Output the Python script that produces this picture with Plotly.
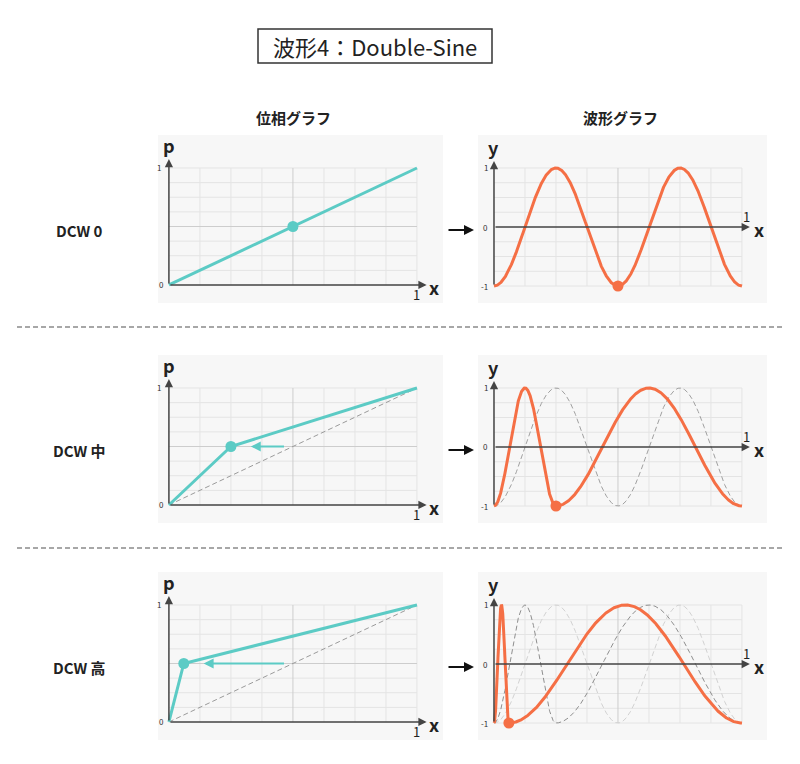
import numpy as np
import plotly.graph_objects as go

# ---------------- data ----------------
row_labels = ["DCW 0", "DCW 中", "DCW 高"]
breaks = [0.5, 0.25, 0.06]          # x where phase reaches p = 0.5
break_p = 0.5
arrow_from = [None, 0.47, 0.47]     # start of the teal "push" arrow
arrow_gap = 0.08
col_titles = ["位相グラフ", "波形グラフ"]
title_text = "波形4：Double-Sine"
phase_grid = [i / 8 for i in range(9)]
wave_grid_x = [i / 8 for i in range(9)]
wave_grid_y = [-1 + i / 4 for i in range(9)]
phase_ticks = ["0", "1"]
wave_ticks = ["-1", "0", "1"]
cycles = 2  # double sine

TEAL = "#5ccbc5"
ORANGE = "#f56f45"
AXC = "#444444"
GRID = "#e4e4e4"
GRID_MID = "#cdcdcd"
FONT = "Noto Sans CJK JP"

W, H = 800, 764
row_off = [0, 220, 437]


def px(x):
    return x / W


def py(y):
    return 1 - y / H


def phase_of(x, b):
    return np.interp(x, [0, b, 1], [0, break_p, 1])


def wave_of(x, b):
    return -np.cos(2 * np.pi * cycles * phase_of(x, b))


fig = go.Figure()
annotations = []
shapes = []
xs = np.linspace(0, 1, 2001)
C = dict(xanchor="center", yanchor="middle")

for r, b in enumerate(breaks):
    off = row_off[r]
    pa, wa = 2 * r + 1, 2 * r + 2
    pxn = "x" if pa == 1 else f"x{pa}"
    pyn = "y" if pa == 1 else f"y{pa}"
    wxn, wyn = f"x{wa}", f"y{wa}"

    # axes layout
    fig.layout[f"xaxis{'' if pa == 1 else pa}"] = dict(
        domain=[px(158), px(443)], range=[-0.044, 1.105], visible=False,
        anchor=pyn, fixedrange=True)
    fig.layout[f"yaxis{'' if pa == 1 else pa}"] = dict(
        domain=[py(303 + off), py(135 + off)], range=[-0.154, 1.282],
        visible=False, anchor=pxn, fixedrange=True)
    fig.layout[f"xaxis{wa}"] = dict(
        domain=[px(478), px(767)], range=[-0.0645, 1.101], visible=False,
        anchor=wyn, fixedrange=True)
    fig.layout[f"yaxis{wa}"] = dict(
        domain=[py(303 + off), py(135 + off)], range=[-1.288, 1.559],
        visible=False, anchor=wxn, fixedrange=True)

    # ---- phase grid ----
    gx, gy = [], []
    for g in phase_grid:
        if g in (0, 0.5):
            continue
        gx += [g, g, None, 0, 1, None]
        gy += [0, 1, None, g, g, None]
    fig.add_trace(go.Scatter(x=gx, y=gy, mode="lines", xaxis=pxn, yaxis=pyn,
                             line=dict(color=GRID, width=1), hoverinfo="skip"))
    fig.add_trace(go.Scatter(x=[0.5, 0.5, None, 0, 1], y=[0, 1, None, 0.5, 0.5],
                             mode="lines", xaxis=pxn, yaxis=pyn,
                             line=dict(color=GRID_MID, width=1), hoverinfo="skip"))
    if r > 0:
        fig.add_trace(go.Scatter(x=[0, 1], y=[0, 1], mode="lines", xaxis=pxn, yaxis=pyn,
                                 line=dict(color="#9a9a9a", width=1, dash="5px,3px"),
                                 hoverinfo="skip"))
    fig.add_trace(go.Scatter(x=[0, b, 1], y=[0, break_p, 1], mode="lines",
                             xaxis=pxn, yaxis=pyn, line=dict(color=TEAL, width=3),
                             hoverinfo="skip"))
    fig.add_trace(go.Scatter(x=[b], y=[break_p], mode="markers", xaxis=pxn, yaxis=pyn,
                             marker=dict(color=TEAL, size=11), hoverinfo="skip"))

    # ---- wave grid ----
    gx, gy = [], []
    for g in wave_grid_x:
        if g in (0, 0.5):
            continue
        gx += [g, g, None]
        gy += [-1, 1, None]
    for g in wave_grid_y:
        if g == 0:
            continue
        gx += [0, 1, None]
        gy += [g, g, None]
    fig.add_trace(go.Scatter(x=gx, y=gy, mode="lines", xaxis=wxn, yaxis=wyn,
                             line=dict(color=GRID, width=1), hoverinfo="skip"))
    fig.add_trace(go.Scatter(x=[0.5, 0.5], y=[-1, 1], mode="lines", xaxis=wxn, yaxis=wyn,
                             line=dict(color=GRID_MID, width=1), hoverinfo="skip"))
    # ghost waves of the previous rows
    ghost_cols = {1: ["#a0a0a0"], 2: ["#d2d2d2", "#8e8e8e"]}
    for k, gc in enumerate(ghost_cols.get(r, [])):
        fig.add_trace(go.Scatter(x=xs, y=wave_of(xs, breaks[k]), mode="lines",
                                 xaxis=wxn, yaxis=wyn,
                                 line=dict(color=gc, width=1, dash="5px,3px"),
                                 hoverinfo="skip"))
    fig.add_trace(go.Scatter(x=xs, y=wave_of(xs, b), mode="lines", xaxis=wxn, yaxis=wyn,
                             line=dict(color=ORANGE, width=3), hoverinfo="skip"))
    fig.add_trace(go.Scatter(x=[b], y=[float(wave_of(np.array([b]), b)[0])], mode="markers",
                             xaxis=wxn, yaxis=wyn, marker=dict(color=ORANGE, size=11),
                             hoverinfo="skip"))

    # ---- axis arrows ----
    arr = dict(text="", showarrow=True, arrowhead=2, arrowsize=1.1, arrowwidth=1.5,
               arrowcolor=AXC)
    annotations += [
        dict(arr, x=0, y=1.077, ax=0, ay=0, xref=pxn, yref=pyn, axref=pxn, ayref=pyn),
        dict(arr, x=1.039, y=0, ax=0, ay=0, xref=pxn, yref=pyn, axref=pxn, ayref=pyn),
        dict(arr, x=0, y=1.12, ax=0, ay=-1, xref=wxn, yref=wyn, axref=wxn, ayref=wyn),
        dict(arr, x=1.032, y=0, ax=0, ay=0, xref=wxn, yref=wyn, axref=wxn, ayref=wyn),
    ]
    lab = dict(C, showarrow=False, font=dict(family=FONT, size=18, color="#222"))
    small = dict(showarrow=False, yanchor="middle", xanchor="right",
                 font=dict(family=FONT, size=8, color="#333"))
    annotations += [
        dict(lab, text="<b>p</b>", x=0, y=1.2, xref=pxn, yref=pyn),
        dict(lab, text="<b>x</b>", x=1.067, y=-0.02, xref=pxn, yref=pyn),
        dict(lab, text="1", x=1.0, y=-0.085, xref=pxn, yref=pyn,
             font=dict(family=FONT, size=13, color="#222")),
        dict(small, text=phase_ticks[1], x=-0.022, y=1, xref=pxn, yref=pyn),
        dict(small, text=phase_ticks[0], x=-0.012, y=0, xref=pxn, yref=pyn),
        dict(lab, text="<b>y</b>", x=0, y=1.36, xref=wxn, yref=wyn),
        dict(lab, text="<b>x</b>", x=1.067, y=-0.03, xref=wxn, yref=wyn),
        dict(lab, text="1", x=1.02, y=0.17, xref=wxn, yref=wyn,
             font=dict(family=FONT, size=13, color="#222")),
        dict(small, text=wave_ticks[2], x=-0.018, y=1, xref=wxn, yref=wyn),
        dict(small, text=wave_ticks[1], x=-0.018, y=0, xref=wxn, yref=wyn),
        dict(small, text=wave_ticks[0], x=-0.018, y=-1, xref=wxn, yref=wyn),
    ]
    # teal push arrow
    if arrow_from[r] is not None:
        annotations.append(dict(text="", showarrow=True, arrowhead=2, arrowsize=1,
                                arrowwidth=2, arrowcolor=TEAL,
                                x=b + arrow_gap, y=break_p, ax=arrow_from[r], ay=break_p,
                                xref=pxn, yref=pyn, axref=pxn, ayref=pyn))
    # black arrow between panels
    annotations.append(dict(text="", showarrow=True, arrowhead=2, arrowsize=1,
                            arrowwidth=2, arrowcolor="#111",
                            x=px(474), y=py(230 + off), ax=-27, ay=0,
                            xref="paper", yref="paper"))
    # row label
    annotations.append(dict(C, text=f"<b>{row_labels[r]}</b>", x=px(79), y=py(230 + off),
                            xref="paper", yref="paper", showarrow=False,
                            font=dict(family=FONT, size=15, color="#222")))

# column titles
for cx, t in zip([293, 620], col_titles):
    annotations.append(dict(C, text=f"<b>{t}</b>", x=px(cx), y=py(118), xref="paper",
                            yref="paper", showarrow=False,
                            font=dict(family=FONT, size=15, color="#222")))
# title
annotations.append(dict(C, text=title_text, x=px(375), y=py(46), xref="paper", yref="paper",
                        showarrow=False, font=dict(family=FONT, size=22, color="#222")))
shapes.append(dict(type="rect", xref="paper", yref="paper", x0=px(258), x1=px(492),
                   y0=py(63), y1=py(29), line=dict(color="#333", width=1.5)))
# separators
for sy in [327, 548]:
    shapes.append(dict(type="line", xref="paper", yref="paper", x0=px(17), x1=px(785),
                       y0=py(sy), y1=py(sy),
                       line=dict(color="#8a8a8a", width=1.5, dash="5px,3px")))

fig.update_layout(width=W, height=H, margin=dict(l=0, r=0, t=0, b=0),
                  paper_bgcolor="white", plot_bgcolor="#f7f7f7", showlegend=False,
                  annotations=annotations, shapes=shapes,
                  font=dict(family=FONT))
fig.write_html("out.html")
